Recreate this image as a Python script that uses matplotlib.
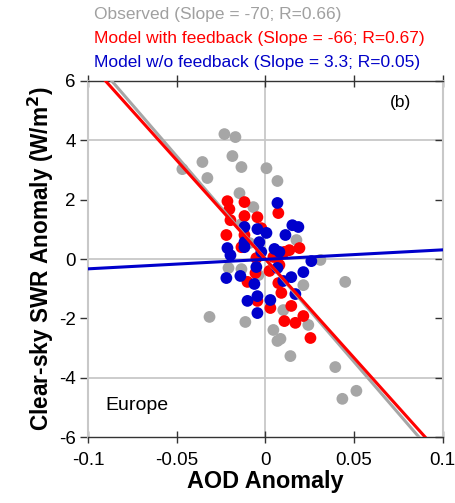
import matplotlib
matplotlib.use("Agg")
import matplotlib.pyplot as plt
import numpy as np

plt.rcParams['font.family'] = ['Liberation Sans', 'DejaVu Sans']

# Observed (gray)
obs_x = [-0.0468, -0.0355, -0.0327, -0.0231, -0.0169, -0.0186, -0.0135, 0.0006, 0.0068,
         -0.0146, -0.0068, 0.0175, -0.0135, -0.0090, 0.0310, -0.0208, -0.0135, -0.0039,
         0.0214, -0.0315, -0.0113, 0.0101, 0.0242, 0.0045, 0.0068, 0.0141, 0.0394, 0.0513,
         0.0434, 0.0085, 0.0450]
obs_y = [3.03, 3.27, 2.73, 4.21, 4.11, 3.47, 3.10, 3.06, 2.63,
         2.22, 1.75, 0.64, 1.18, 0.54, -0.03, -0.30, -0.34, -0.54,
         -0.88, -1.95, -2.12, -1.72, -2.22, -2.39, -2.76, -3.27, -3.64, -4.44,
         -4.71, -2.69, -0.77]

# Model with feedback (red)
fb_x = [-0.0214, -0.0203, -0.0118, -0.0197, -0.0118, -0.0045, 0.0073, -0.0220, -0.0023,
        -0.0135, 0.0135, 0.0192, 0.0107, -0.0051, 0.0045, 0.0023, -0.0056, 0.0079,
        -0.0101, 0.0073, 0.0090, -0.0045, 0.0028, 0.0146, 0.0214, 0.0107, 0.0169,
        0.0254, -0.0118]
fb_y = [1.95, 1.68, 1.92, 1.31, 1.45, 1.41, 1.55, 0.81, 1.04,
        0.40, 0.30, 0.37, 0.24, 0.03, 0.07, -0.40, -0.47, -0.20,
        -0.77, -0.81, -1.14, -1.41, -1.65, -1.58, -1.92, -2.09, -2.15,
        -2.66, 0.81]

# Model without feedback (blue)
nofb_x = [0.0068, -0.0118, -0.0045, 0.0006, 0.0152, 0.0186, 0.0113, -0.0034, -0.0118,
          -0.0118, -0.0214, -0.0197, -0.0023, 0.0051, 0.0079, 0.0259, 0.0068, -0.0051,
          0.0214, -0.0220, -0.0141, -0.0062, 0.0101, 0.0146, 0.0169, -0.0045, -0.0101,
          0.0028, -0.0045]
nofb_y = [1.89, 1.08, 1.01, 0.88, 1.14, 1.08, 0.81, 0.57, 0.57,
          0.40, 0.37, 0.13, 0.24, 0.34, 0.24, -0.07, -0.30, -0.27,
          -0.44, -0.64, -0.57, -0.84, -0.74, -0.61, -1.18, -1.25, -1.41,
          -1.38, -1.82]

# Regression lines (slope, intercept)
slopes = [-69.3, -66.6, 3.2]
intercepts = [0.0, 0.0, -0.01]
labels = ["Observed (Slope = -70; R=0.66)",
          "Model with feedback (Slope = -66; R=0.67)",
          "Model w/o feedback (Slope = 3.3; R=0.05)"]
colors = ["#a6a6a6", "#ff0000", "#0000cc"]

fig = plt.figure(figsize=(4.56, 5.03), dpi=100)
ax = fig.add_axes([0.193, 0.131, 0.778, 0.708])
ax.set_xlim(-0.1, 0.1)
ax.set_ylim(-6, 6)

grid_c = "#c8c8c8"
for gx in [0.0]:
    ax.axvline(gx, color=grid_c, lw=1.3, zorder=0)
for gy in [-4, 0, 4]:
    ax.axhline(gy, color=grid_c, lw=1.3, zorder=0)

xs = [obs_x, fb_x, nofb_x]
ys = [obs_y, fb_y, nofb_y]
for i in range(3):
    ax.scatter(xs[i], ys[i], s=72, color=colors[i], edgecolors='none', zorder=2 + i)

xl = np.array([-0.1, 0.1])
for i in [0, 1, 2]:
    ax.plot(xl, slopes[i] * xl + intercepts[i], color=colors[i], lw=2.2, zorder=5 + i)

for side in ['left', 'right']:
    ax.spines[side].set_color(grid_c)
    ax.spines[side].set_linewidth(1.5)
for side in ['top', 'bottom']:
    ax.spines[side].set_color("#333333")
    ax.spines[side].set_linewidth(1.0)

ax.set_xticks([-0.1, -0.05, 0, 0.05, 0.1])
ax.set_xticklabels(["-0.1", "-0.05", "0", "0.05", "0.1"])
ax.set_yticks([-6, -4, -2, 0, 2, 4, 6])
ax.set_yticklabels(["-6", "-4", "-2", "0", "2", "4", "6"])
ax.tick_params(axis='x', direction='inout', length=9, width=1, top=True, bottom=True,
               labelsize=13.5, pad=6, color="#333333")
ax.tick_params(axis='y', direction='out', length=6, width=1, left=True, right=False,
               labelsize=13.5, pad=3, color="#333333")
for t, v in zip(ax.xaxis.get_major_ticks(), [-0.1, -0.05, 0, 0.05, 0.1]):
    if v in (-0.1, 0, 0.1):
        t.tick1line.set_color(grid_c)
        t.tick2line.set_color(grid_c)
for t, v in zip(ax.yaxis.get_major_ticks(), [-6, -4, -2, 0, 2, 4, 6]):
    if v in (-4, 0, 4):
        t.tick1line.set_color(grid_c)

# right-side inward ticks
ax2 = ax.secondary_yaxis('right')
ax2.set_yticks([-6, -4, -2, 0, 2, 4, 6])
ax2.tick_params(direction='in', length=6, width=1, labelright=False, color="#333333")
ax2.spines['right'].set_visible(False)
for t, v in zip(ax2.yaxis.get_major_ticks(), [-6, -4, -2, 0, 2, 4, 6]):
    if v in (-4, 0, 4):
        t.tick2line.set_color(grid_c)
        t.tick1line.set_color(grid_c)

ax.set_xlabel("AOD Anomaly", fontsize=16.8, fontweight='bold', labelpad=1)
ax.set_ylabel("Clear-sky SWR Anomaly (W/m$^\\mathbf{2}$)", fontsize=16.3, fontweight='bold', labelpad=2)

ax.text(0.05, 0.09, "Europe", transform=ax.transAxes, fontsize=14, ha='left', va='center')
ax.text(0.88, 0.94, "(b)", transform=ax.transAxes, fontsize=12.5, ha='center', va='center')

leg_c = ["#a0a0a0", "#ff0000", "#0000c8"]
for i, (lab, c) in enumerate(zip(labels, leg_c)):
    fig.text(94 / 456, 1 - (15 + 23.5 * i) / 503, lab, color=c, fontsize=12.5,
             ha='left', va='center')

fig.savefig("out.png", dpi=100)
